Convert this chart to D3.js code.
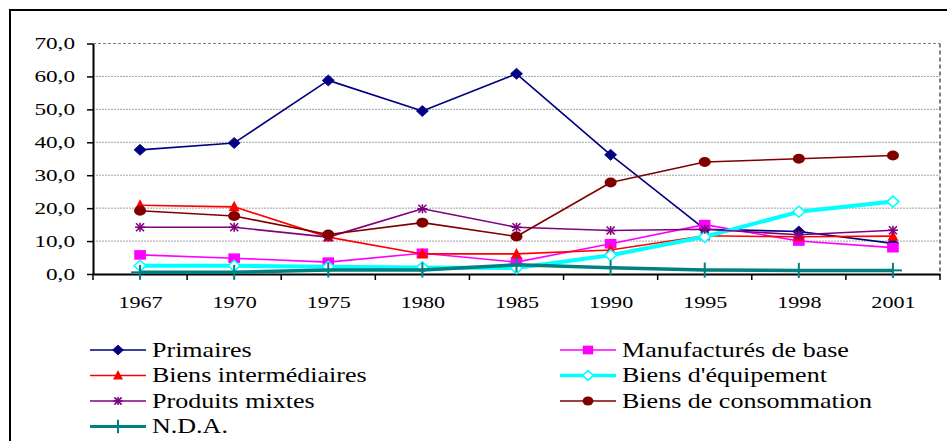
<!DOCTYPE html>
<html><head><meta charset="utf-8">
<script src="https://cdn.jsdelivr.net/npm/d3@7"></script>
<style>
html,body{margin:0;padding:0;background:#fff;}
svg{display:block;}
text{font-family:"Liberation Serif","Times New Roman",serif;fill:#000;}
</style></head>
<body>
<svg id="chart" width="947" height="441"></svg>
<script>
const years = ["1967","1970","1975","1980","1985","1990","1995","1998","2001"];
const yTicks = [0,10,20,30,40,50,60,70];

const primaires       = [37.7, 39.8, 58.8, 49.5, 60.8, 36.2, 13.6, 12.9, 9.3];
const manufactures    = [5.8, 4.8, 3.6, 6.3, 3.6, 9.2, 15.0, 10.0, 8.0];
const intermediaires  = [20.9, 20.4, 11.2, 6.1, 6.1, 7.3, 11.6, 11.3, 11.5];
const equipement      = [2.5, 2.5, 2.2, 2.0, 1.8, 5.7, 11.3, 18.9, 22.0];
const mixtes          = [14.2, 14.2, 11.2, 19.8, 14.2, 13.2, 13.6, 11.9, 13.3];
const consommation    = [19.2, 17.6, 12.0, 15.6, 11.4, 27.8, 34.0, 35.0, 36.0];
const nda             = [0.5, 0.5, 1.2, 1.2, 2.8, 1.9, 1.2, 1.1, 1.1];

const seriesNames = ["Primaires","Manufacturés de base","Biens intermédiaires","Biens d'équipement","Produits mixtes","Biens de consommation","N.D.A."];
const seriesValues = [primaires, manufactures, intermediaires, equipement, mixtes, consommation, nda];
const seriesColors = ["#000080","#FF00FF","#FF0000","#00FFFF","#800080","#800000","#008080"];
const seriesMarkers = ["diamond","square","triangle","opendiamond","star","circle","plus"];
const seriesWidths = [1.6,1.6,1.6,4,1.6,1.6,3.5];

const svg = d3.select("#chart");
const L = 93, R = 940, T = 43.5, B = 274;

// outer frame
svg.append("rect").attr("x",10).attr("y",10).attr("width",960).attr("height",460)
  .attr("fill","none").attr("stroke","#000").attr("stroke-width",2);

const xBand = d3.scaleBand().domain(years).range([L,R]).padding(0);
const x = d3.scalePoint().domain(years).range([L,R]).padding(0.5);
const y = d3.scaleLinear().domain([0,70]).range([B,T]);

// gridlines
svg.append("g").selectAll("line").data(yTicks.filter(d=>d>0)).join("line")
  .attr("x1",L).attr("x2",R).attr("y1",d=>y(d)).attr("y2",d=>y(d))
  .attr("stroke",d=>d===70?"#808080":"#a0a0a0").attr("stroke-width",1)
  .attr("stroke-dasharray",d=>d===70?"3,2":"2,1");
// right dashed border
svg.append("line").attr("x1",R).attr("x2",R).attr("y1",T).attr("y2",B)
  .attr("stroke","#808080").attr("stroke-width",2).attr("stroke-dasharray","4,3");

// y axis
const fmt = v => d3.format(".1f")(v).replace(".",",");
const yAxis = svg.append("g").attr("transform",`translate(${L},0)`)
  .call(d3.axisLeft(y).tickValues(yTicks).tickFormat(fmt).tickSize(6).tickSizeOuter(0));
yAxis.select(".domain").attr("stroke","#000").attr("stroke-width",2);
yAxis.selectAll(".tick line").attr("stroke","#000").attr("stroke-width",1.5);
const ySx = 1.45;
yAxis.selectAll(".tick text").attr("font-size",16).attr("font-family","Liberation Serif")
  .attr("x",-18/ySx).attr("dy","0.34em").attr("transform",`scale(${ySx},1)`);

// x axis
const xAxis = svg.append("g").attr("transform",`translate(0,${B})`)
  .call(d3.axisBottom(x).tickSize(0).tickSizeOuter(0).tickPadding(0));
xAxis.select(".domain").attr("stroke","#000").attr("stroke-width",2);
xAxis.selectAll(".tick text").attr("font-size",17).attr("font-family","Liberation Serif")
  .attr("y",34).attr("dy",0).attr("transform","scale(1.3,1)");
svg.append("g").selectAll("line").data(years.map(d=>xBand(d)).concat([R])).join("line")
  .attr("x1",d=>d).attr("x2",d=>d).attr("y1",B).attr("y2",B+6)
  .attr("stroke","#000").attr("stroke-width",1.5);

// marker drawing
function drawMarker(g, type, color, cx, cy, scale){
  const s = scale||1;
  switch(type){
    case "diamond":
      g.append("path").attr("d",`M${cx-6*s},${cy} L${cx},${cy-5.5*s} L${cx+6*s},${cy} L${cx},${cy+5.5*s}Z`).attr("fill",color).attr("stroke",color).attr("stroke-width",0.8); break;
    case "opendiamond":
      g.append("path").attr("d",`M${cx-6*s},${cy} L${cx},${cy-5.5*s} L${cx+6*s},${cy} L${cx},${cy+5.5*s}Z`).attr("fill","#fff").attr("stroke",color).attr("stroke-width",1.6); break;
    case "square":
      g.append("rect").attr("x",cx-5.8*s).attr("y",cy-4.8*s).attr("width",11.6*s).attr("height",9.6*s).attr("fill",color); break;
    case "triangle":
      g.append("path").attr("d",`M${cx},${cy-6*s} L${cx+5.5*s},${cy+4.5*s} L${cx-5.5*s},${cy+4.5*s}Z`).attr("fill",color); break;
    case "circle":
      g.append("ellipse").attr("cx",cx).attr("cy",cy).attr("rx",6*s).attr("ry",5*s).attr("fill",color); break;
    case "star":
      [[-5,0,5,0],[-4,-4,4,4],[-4,4,4,-4],[0,-4.5,0,4.5]].forEach(p=>{
        g.append("line").attr("x1",cx+p[0]*s).attr("y1",cy+p[1]*s).attr("x2",cx+p[2]*s).attr("y2",cy+p[3]*s)
          .attr("stroke",color).attr("stroke-width",1.6);
      }); break;
    case "plus":
      g.append("line").attr("x1",cx-9*s).attr("x2",cx+9*s).attr("y1",cy).attr("y2",cy).attr("stroke",color).attr("stroke-width",2);
      g.append("line").attr("x1",cx).attr("x2",cx).attr("y1",cy-7.5*s).attr("y2",cy+7.5*s).attr("stroke",color).attr("stroke-width",2);
      break;
  }
}

// series
const line = d3.line().x((d,i)=>x(years[i])).y(d=>y(d));
seriesValues.forEach((vals,k)=>{
  const g = svg.append("g");
  g.append("path").datum(vals).attr("d",line).attr("fill","none")
    .attr("stroke",seriesColors[k]).attr("stroke-width",seriesWidths[k]).attr("stroke-linejoin","round");
  vals.forEach((v,i)=>drawMarker(g, seriesMarkers[k], seriesColors[k], x(years[i]), y(v), 1));
});

// legend
const legRows = [350,375.5,401,426.5];
const legCols = [90,560];
const legSx = 1.24;
seriesNames.forEach((name,k)=>{
  const col = k%2, row = Math.floor(k/2);
  const lx = legCols[col], ly = legRows[row];
  const g = svg.append("g");
  g.append("line").attr("x1",lx).attr("x2",lx+56).attr("y1",ly).attr("y2",ly)
    .attr("stroke",seriesColors[k]).attr("stroke-width",seriesWidths[k]>3?seriesWidths[k]-0.5:1.6);
  drawMarker(g, seriesMarkers[k], seriesColors[k], lx+28, ly, 0.9);
  g.append("text").attr("x",(lx+62)/legSx).attr("y",ly+7).attr("font-size",21)
    .attr("transform",`scale(${legSx},1)`).text(name);
});
</script>
</body></html>
